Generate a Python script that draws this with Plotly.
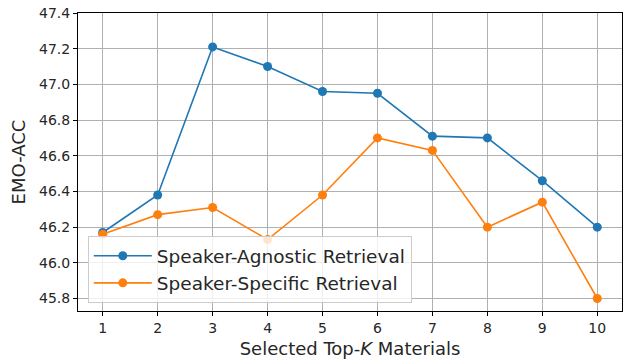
import plotly.graph_objects as go

k_values = [1, 2, 3, 4, 5, 6, 7, 8, 9, 10]
agnostic = [46.17, 46.38, 47.21, 47.10, 46.96, 46.95, 46.71, 46.70, 46.46, 46.20]
specific = [46.16, 46.27, 46.31, 46.13, 46.38, 46.70, 46.63, 46.20, 46.34, 45.80]
y_ticks = [45.8, 46.0, 46.2, 46.4, 46.6, 46.8, 47.0, 47.2, 47.4]

FONT = "DejaVu Sans"

fig = go.Figure()
fig.add_trace(go.Scatter(x=k_values, y=agnostic, mode="lines+markers",
                         name="Speaker-Agnostic Retrieval",
                         line=dict(color="#1f77b4", width=1.6),
                         marker=dict(color="#1f77b4", size=9)))
fig.add_trace(go.Scatter(x=k_values, y=specific, mode="lines+markers",
                         name="Speaker-Specific Retrieval",
                         line=dict(color="#ff7f0e", width=1.6),
                         marker=dict(color="#ff7f0e", size=9)))

axis_common = dict(showgrid=True, gridcolor="#b0b0b0", gridwidth=1,
                   showline=True, linecolor="black", linewidth=1, mirror=True,
                   ticks="outside", ticklen=4, tickcolor="black",
                   tickfont=dict(family=FONT, size=14, color="#262626"),
                   zeroline=False)

fig.update_layout(
    width=628, height=360,
    margin=dict(l=78, r=5, t=12, b=47),
    paper_bgcolor="white", plot_bgcolor="white",
    font=dict(family=FONT, color="#262626"),
    xaxis=dict(range=[0.55, 10.45], tickvals=k_values,
               title=dict(text="Selected Top-<i>K</i> Materials",
                          font=dict(family=FONT, size=18), standoff=7),
               **axis_common),
    yaxis=dict(range=[45.73, 47.4], tickvals=y_ticks,
               ticktext=[f"{v:.1f}" for v in y_ticks],
               title=dict(text="EMO-ACC", font=dict(family=FONT, size=18), standoff=8),
               **axis_common),
    legend=dict(x=0.018, y=0.026, xanchor="left", yanchor="bottom",
                itemwidth=58,
                bgcolor="rgba(255,255,255,0.8)", bordercolor="#cccccc", borderwidth=1,
                font=dict(family=FONT, size=18.5, color="#262626")),
    showlegend=True,
)

fig.write_html("out.html", config={"displayModeBar": False},
               post_script="document.body.style.margin='0';")
